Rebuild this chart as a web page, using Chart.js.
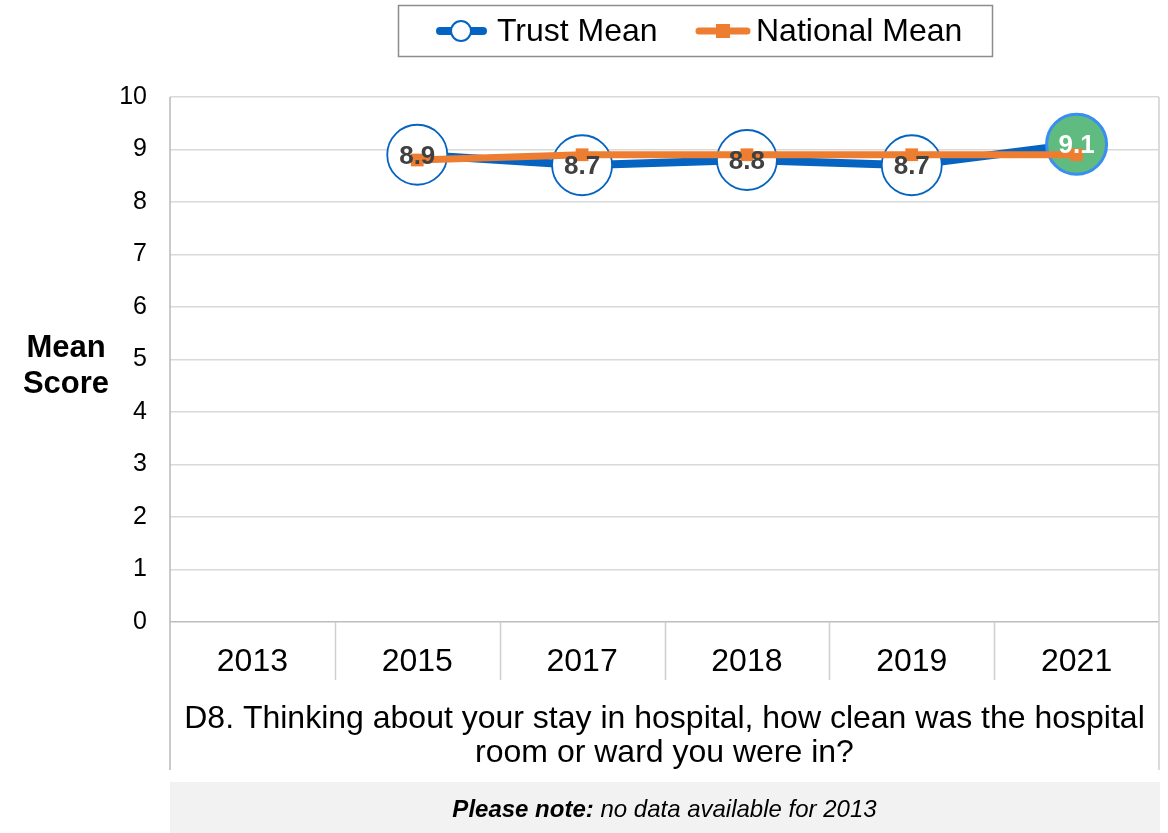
<!DOCTYPE html>
<html>
<head>
<meta charset="utf-8">
<script src="https://cdn.jsdelivr.net/npm/chart.js@4/dist/chart.umd.min.js"></script>
<style>
  html, body { margin: 0; padding: 0; background: #ffffff; }
  canvas { display: block; }
</style>
</head>
<body>
<canvas id="chart" width="1168" height="833"></canvas>
<script>
// ---- data ----
const years = ['2013', '2015', '2017', '2018', '2019', '2021'];
const trustMean = [null, 8.9, 8.7, 8.8, 8.7, 9.1];
const nationalMean = [null, 8.8, 8.9, 8.9, 8.9, 8.9];
const seriesNames = ['Trust Mean', 'National Mean'];
const axisTitleLines = ['Mean', 'Score'];
const questionLines = [
  'D8. Thinking about your stay in hospital, how clean was the hospital',
  'room or ward you were in?'
];
const noteBold = 'Please note:';
const noteText = ' no data available for 2013';
// years whose trust score is flagged (drawn green)
const flaggedYears = ['2021'];

// ---- styling ----
const FONT = '"Liberation Sans", Arial, Helvetica, sans-serif';
const BLUE = '#0563c1';
const BLUE_LIGHT = '#3a8ef2';
const ORANGE = '#ed7d31';
const GREEN = '#5fbb80';
const FRAME = '#cfcfcf';

const isFlagged = i => flaggedYears.includes(years[i]);

// Frame, separators, titles, legend and footnote drawn around the plot
const decorations = {
  id: 'decorations',
  afterDraw(chart) {
    const ctx = chart.ctx;
    const area = chart.chartArea;
    const xs = chart.scales.x;
    const frameBottom = 770;
    const sepBottom = 680;
    ctx.save();

    // frame sides
    ctx.lineWidth = 1.5;
    ctx.strokeStyle = '#b8b8b8';
    ctx.beginPath();
    ctx.moveTo(area.left, area.top);
    ctx.lineTo(area.left, frameBottom);
    ctx.stroke();
    ctx.strokeStyle = FRAME;
    ctx.beginPath();
    ctx.moveTo(area.right, area.top);
    ctx.lineTo(area.right, frameBottom);
    ctx.stroke();

    // category separators under the axis
    ctx.strokeStyle = FRAME;
    for (let i = 0; i < years.length - 1; i++) {
      const x = Math.round((xs.getPixelForValue(i) + xs.getPixelForValue(i + 1)) / 2) + 0.5;
      ctx.beginPath();
      ctx.moveTo(x, area.bottom);
      ctx.lineTo(x, sepBottom);
      ctx.stroke();
    }

    // question text
    const midX = (area.left + area.right) / 2;
    ctx.fillStyle = '#000';
    ctx.textAlign = 'center';
    ctx.textBaseline = 'middle';
    ctx.font = '32px ' + FONT;
    ctx.fillText(questionLines[0], midX, 719);
    ctx.fillText(questionLines[1], midX, 753);

    // y axis title
    ctx.font = 'bold 31px ' + FONT;
    ctx.fillText(axisTitleLines[0], 66, 348);
    ctx.fillText(axisTitleLines[1], 66, 384);

    // footnote panel
    ctx.fillStyle = '#f2f2f2';
    ctx.fillRect(area.left, 782, area.right - area.left + 1, 833 - 782);
    ctx.font = 'italic bold 24px ' + FONT;
    const wb = ctx.measureText(noteBold).width;
    ctx.font = 'italic 24px ' + FONT;
    const wt = ctx.measureText(noteText).width;
    let tx = midX - (wb + wt) / 2;
    ctx.textAlign = 'left';
    ctx.fillStyle = '#000';
    ctx.font = 'italic bold 24px ' + FONT;
    ctx.fillText(noteBold, tx, 810);
    ctx.font = 'italic 24px ' + FONT;
    ctx.fillText(noteText, tx + wb, 810);

    // legend
    const box = { x: 398.5, y: 5.5, w: 594, h: 51 };
    ctx.fillStyle = '#fff';
    ctx.fillRect(box.x, box.y, box.w, box.h);
    ctx.strokeStyle = '#8c8c8c';
    ctx.lineWidth = 1.5;
    ctx.strokeRect(box.x, box.y, box.w, box.h);
    const ly = 31;
    ctx.lineCap = 'round';
    // trust sample
    ctx.strokeStyle = BLUE;
    ctx.lineWidth = 8;
    ctx.beginPath(); ctx.moveTo(440, ly); ctx.lineTo(483, ly); ctx.stroke();
    ctx.lineWidth = 2;
    ctx.fillStyle = '#fff';
    ctx.beginPath(); ctx.arc(461, ly, 10, 0, Math.PI * 2); ctx.fill(); ctx.stroke();
    // national sample
    ctx.strokeStyle = ORANGE;
    ctx.lineWidth = 7;
    ctx.beginPath(); ctx.moveTo(699, ly); ctx.lineTo(747, ly); ctx.stroke();
    ctx.fillStyle = ORANGE;
    ctx.fillRect(716, ly - 7, 14, 14);
    // legend text
    ctx.fillStyle = '#000';
    ctx.font = '32px ' + FONT;
    ctx.textAlign = 'left';
    ctx.textBaseline = 'middle';
    ctx.fillText(seriesNames[0], 497, ly + 1);
    ctx.fillText(seriesNames[1], 756, ly + 1);

    ctx.restore();
  }
};

// Value labels on the trust markers
const valueLabels = {
  id: 'valueLabels',
  afterDatasetsDraw(chart) {
    const ctx = chart.ctx;
    const meta = chart.getDatasetMeta(0);
    ctx.save();
    ctx.font = 'bold 26px ' + FONT;
    ctx.textAlign = 'center';
    ctx.textBaseline = 'middle';
    meta.data.forEach((pt, i) => {
      const v = trustMean[i];
      if (v === null) return;
      ctx.fillStyle = isFlagged(i) ? '#ffffff' : '#404040';
      ctx.fillText(v.toFixed(1), pt.x, pt.y + 2);
    });
    ctx.restore();
  }
};

new Chart(document.getElementById('chart'), {
  type: 'line',
  data: {
    labels: years,
    datasets: [
      {
        label: seriesNames[0],
        data: trustMean,
        order: 2,
        borderColor: BLUE,
        borderWidth: 8,
        tension: 0,
        pointStyle: 'circle',
        pointRadius: 30,
        pointHoverRadius: 30,
        pointBackgroundColor: years.map((y, i) => isFlagged(i) ? GREEN : '#ffffff'),
        pointBorderColor: years.map((y, i) => isFlagged(i) ? BLUE_LIGHT : BLUE),
        pointBorderWidth: years.map((y, i) => isFlagged(i) ? 3 : 1.8)
      },
      {
        label: seriesNames[1],
        data: nationalMean,
        order: 1,
        borderColor: ORANGE,
        borderWidth: 7,
        tension: 0,
        pointStyle: 'rect',
        pointRadius: 9,
        pointHoverRadius: 9,
        pointBackgroundColor: ORANGE,
        pointBorderColor: ORANGE,
        pointBorderWidth: 0
      }
    ]
  },
  options: {
    responsive: false,
    animation: false,
    events: [],
    layout: {
      autoPadding: false,
      padding: { top: 97, right: 9, left: 0, bottom: 0 }
    },
    plugins: {
      legend: { display: false },
      tooltip: { enabled: false }
    },
    scales: {
      x: {
        type: 'category',
        offset: true,
        grid: { display: false },
        border: { display: false },
        ticks: {
          color: '#000',
          font: { family: FONT, size: 32 },
          padding: 13,
          maxRotation: 0
        },
        afterFit(scale) {
          scale.height = 211;
          scale.paddingLeft = 0;
          scale.paddingRight = 0;
        }
      },
      y: {
        min: 0,
        max: 10,
        border: { display: false },
        grid: {
          drawTicks: false,
          lineWidth: 1.5,
          color: ctx => ctx.tick && ctx.tick.value === 0 ? '#bdbdbd' : '#d9d9d9'
        },
        ticks: {
          stepSize: 1,
          color: '#000',
          font: { family: FONT, size: 25 },
          padding: 23
        },
        afterFit(scale) { scale.width = 170; }
      }
    }
  },
  plugins: [decorations, valueLabels]
});
</script>
</body>
</html>
